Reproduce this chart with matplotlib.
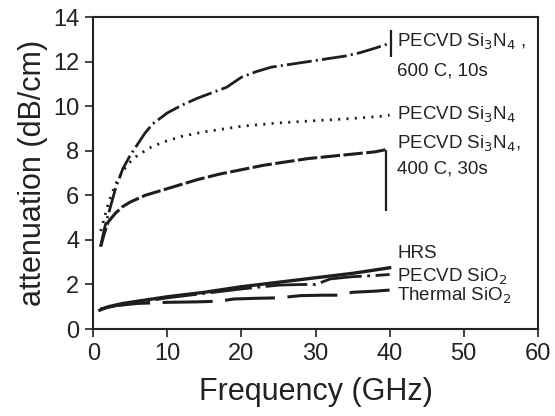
import matplotlib
matplotlib.use("Agg")
import matplotlib.pyplot as plt

plt.rcParams['font.family'] = ['Liberation Sans', 'DejaVu Sans']
plt.rcParams['lines.scale_dashes'] = False

# PECVD Si3N4, 600 C, 10s
f_600 = [1.0, 1.5, 2.0, 2.5, 3.0, 4.0, 5.0, 6.0, 7.0, 8.0, 10, 12, 14, 16, 18,
         20, 22, 24, 26, 28, 30, 32, 34, 36, 38, 39.8]
a_600 = [3.7, 4.5, 5.1, 5.7, 6.3, 7.2, 7.8, 8.3, 8.8, 9.2, 9.7, 10.05, 10.35,
         10.6, 10.85, 11.3, 11.55, 11.75, 11.85, 11.95, 12.05, 12.15, 12.25,
         12.4, 12.6, 12.8]

# PECVD Si3N4 (as deposited)
f_sin = [1.0, 1.5, 2.0, 3.0, 4.0, 5.0, 6.0, 8.0, 10, 12, 15, 18, 20, 25, 30,
         35, 39, 40]
a_sin = [4.4, 5.0, 5.6, 6.5, 7.1, 7.5, 7.8, 8.2, 8.45, 8.65, 8.85, 9.0, 9.1,
         9.25, 9.35, 9.45, 9.55, 9.6]

# PECVD Si3N4, 400 C, 30s
f_400 = [1.0, 1.5, 2.0, 3.0, 4.0, 5.0, 7.0, 9.0, 11, 14, 17, 20, 23, 26, 29,
         32, 35, 38, 39.5]
a_400 = [3.7, 4.3, 4.8, 5.2, 5.5, 5.7, 6.0, 6.2, 6.4, 6.7, 6.95, 7.15, 7.35,
         7.5, 7.65, 7.75, 7.85, 7.95, 8.05]

# HRS
f_hrs = [0.9, 2, 4, 7, 10, 15, 20, 25, 30, 35, 40]
a_hrs = [0.85, 1.0, 1.15, 1.3, 1.45, 1.65, 1.9, 2.1, 2.3, 2.5, 2.75]

# PECVD SiO2
f_pox = [1, 3, 6, 10, 15, 20, 25, 28, 30, 32, 35, 38, 40]
a_pox = [0.9, 1.05, 1.2, 1.4, 1.6, 1.8, 1.97, 2.0, 2.0, 2.25, 2.35, 2.4, 2.45]

# Thermal SiO2
f_tox = [1, 3, 6, 10, 14, 17, 19, 22, 25, 28, 31, 33, 35, 38, 40]
a_tox = [0.9, 1.05, 1.15, 1.2, 1.22, 1.25, 1.35, 1.38, 1.4, 1.5, 1.52, 1.52,
         1.65, 1.7, 1.75]

# measurement glitches near 40 GHz
spike_f = [40.2, 39.5]
spike_top = [13.4, 8.05]
spike_bot = [12.2, 5.3]

ink = '#1e1e1e'

fig = plt.figure(figsize=(5.55, 4.16), dpi=100)
ax = fig.add_axes([0.168, 0.209, 0.801, 0.75])

ax.plot(f_600, a_600, color=ink, lw=2.0, dashes=(18, 3, 1.5, 3))
ax.plot(f_sin, a_sin, color=ink, lw=2.0, dashes=(1.5, 4.5))
ax.plot(f_400, a_400, color=ink, lw=2.2, dashes=(14, 2.5))
ax.plot(f_hrs, a_hrs, color=ink, lw=2.4)
ax.plot(f_pox, a_pox, color=ink, lw=2.0, dashes=(30, 4, 2, 4))
ax.plot(f_tox, a_tox, color=ink, lw=2.2, dashes=(36, 9))
ax.vlines(spike_f, spike_bot, spike_top, color=ink, lw=1.6)

ax.set_xlim(0, 60)
ax.set_ylim(0, 14)
ax.set_xticks(range(0, 61, 10))
ax.set_yticks(range(0, 15, 2))
ax.tick_params(direction='out', length=6, width=1.2, labelsize=17,
               colors='#222222', pad=4)
for s in ax.spines.values():
    s.set_linewidth(1.5)
    s.set_color('#222222')

ax.set_xlabel('Frequency (GHz)', fontsize=22, color='#222222', labelpad=9)
ax.set_ylabel('attenuation (dB/cm)', fontsize=22, color='#222222', labelpad=4)

tk = dict(fontsize=13.5, color='#222222', va='center', ha='left')
ax.text(41.0, 12.9, r'PECVD Si$_3$N$_4$ ,', **tk)
ax.text(41.0, 11.6, '600 C, 10s', **tk)
ax.text(41.0, 9.6, r'PECVD Si$_3$N$_4$', **tk)
ax.text(41.0, 8.3, r'PECVD Si$_3$N$_4$,', **tk)
ax.text(41.0, 7.2, '400 C, 30s', **tk)
tl = dict(fontsize=13.5, color='#222222', va='center', ha='left')
ax.text(41.0, 3.4, 'HRS', **tl)
ax.text(41.0, 2.35, r'PECVD SiO$_2$', **tl)
ax.text(41.0, 1.5, r'Thermal SiO$_2$', **tl)

fig.savefig('out.png', dpi=100)
